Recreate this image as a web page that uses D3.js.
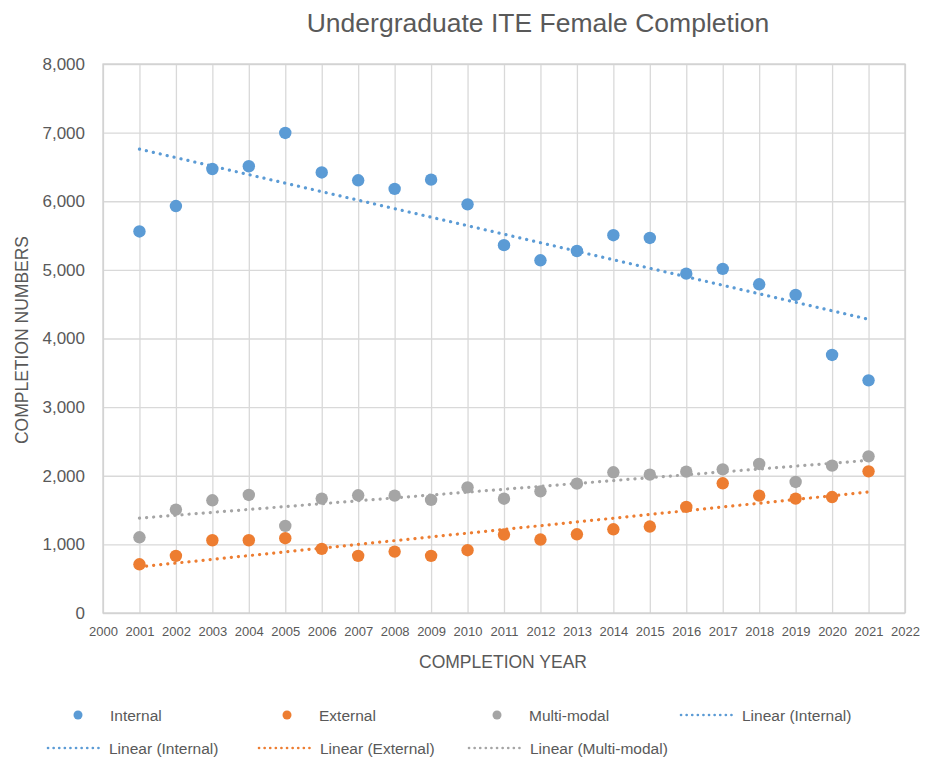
<!DOCTYPE html>
<html>
<head>
<meta charset="utf-8">
<script src="https://cdn.jsdelivr.net/npm/d3@7"></script>
<style>
  body { margin: 0; background: #fff; }
  text { font-family: "Liberation Sans", Arial, sans-serif; fill: #595959; }
</style>
</head>
<body>
<div id="chart"></div>
<script>
// data
var years = [2001, 2002, 2003, 2004, 2005, 2006, 2007, 2008, 2009, 2010, 2011,
             2012, 2013, 2014, 2015, 2016, 2017, 2018, 2019, 2020, 2021];
var internal = [5560, 5930, 6470, 6510, 6995, 6420, 6305, 6180, 6315, 5955, 5360,
                5140, 5275, 5505, 5465, 4945, 5015, 4790, 4635, 3760, 3390];
var external = [710, 833, 1060, 1060, 1090, 935, 833, 895, 833, 915, 1143,
                1070, 1147, 1220, 1260, 1546, 1890, 1710, 1667, 1690, 2064];
var multimodal = [1103, 1507, 1642, 1720, 1269, 1667, 1715, 1710, 1648, 1831, 1665,
                  1773, 1885, 2050, 2016, 2060, 2093, 2172, 1910, 2147, 2283];
var xTicks = d3.range(2000, 2023);
var yTicks = [0, 1000, 2000, 3000, 4000, 5000, 6000, 7000, 8000];

var svgWidth = 935;
var svgHeight = 760;

var margin = { top: 64, right: 30, bottom: 147, left: 103 };
var width = 905 - margin.left;
var height = 613 - margin.top;

var svg = d3.select("#chart")
    .append("svg")
    .attr("width", svgWidth)
    .attr("height", svgHeight);

var chart = svg.append("g")
    .attr("transform", `translate(${margin.left}, ${margin.top})`);

var x = d3.scaleLinear().domain([2000, 2022]).range([0, width]);
var y = d3.scaleLinear().domain([0, 8000]).range([height, 0]);

var series = [
    { name: "Internal", values: internal, color: "#5B9BD5" },
    { name: "External", values: external, color: "#ED7D31" },
    { name: "Multi-modal", values: multimodal, color: "#A5A5A5" }
];

// gridlines
chart.append("g")
    .call(d3.axisBottom(x).tickValues(xTicks).tickSize(-height).tickFormat(""))
    .attr("transform", `translate(0, ${height})`)
    .call(g => g.select(".domain").remove())
    .selectAll("line").attr("stroke", "#D9D9D9").attr("stroke-width", 1.3);

chart.append("g")
    .call(d3.axisLeft(y).tickValues(yTicks).tickSize(-width).tickFormat(""))
    .call(g => g.select(".domain").remove())
    .selectAll("line").attr("stroke", "#D9D9D9").attr("stroke-width", 1.3);

chart.append("rect")
    .attr("width", width)
    .attr("height", height)
    .attr("fill", "none")
    .attr("stroke", "#D0D0D0")
    .attr("stroke-width", 1.3);

// tick labels
var xAxis = chart.append("g")
    .attr("transform", `translate(0, ${height})`)
    .call(d3.axisBottom(x).tickValues(xTicks).tickSize(0).tickPadding(14).tickFormat(d3.format("d")));
xAxis.select(".domain").remove();
xAxis.selectAll("text").style("font-size", "13px").style("fill", "#595959");

var yAxis = chart.append("g")
    .call(d3.axisLeft(y).tickValues(yTicks).tickSize(0).tickPadding(18).tickFormat(d3.format(",")));
yAxis.select(".domain").remove();
yAxis.selectAll("text").style("font-size", "17px").style("fill", "#595959");

// linear trend lines
function fit(vals) {
    var mx = d3.mean(years), my = d3.mean(vals);
    var num = d3.sum(years, (d, i) => (d - mx) * (vals[i] - my));
    var den = d3.sum(years, d => (d - mx) * (d - mx));
    var b = num / den;
    return t => my + b * (t - mx);
}

var line = d3.line().x(d => x(d[0])).y(d => y(d[1]));

series.forEach(function (s) {
    var f = fit(s.values);
    var ends = [years[0], years[years.length - 1]];
    chart.append("path")
        .attr("d", line(ends.map(t => [t, f(t)])))
        .attr("fill", "none")
        .attr("stroke", s.color)
        .attr("stroke-width", 3.2)
        .attr("stroke-linecap", "round")
        .attr("stroke-dasharray", "0.1 7");
});

// points
series.forEach(function (s) {
    chart.selectAll(null)
        .data(s.values)
        .enter()
        .append("circle")
        .attr("cx", (d, i) => x(years[i]))
        .attr("cy", d => y(d))
        .attr("r", 6.2)
        .attr("fill", s.color);
});

// title and axis labels
svg.append("text")
    .attr("x", 538)
    .attr("y", 32)
    .attr("text-anchor", "middle")
    .style("font-size", "26.5px")
    .text("Undergraduate ITE Female Completion");

svg.append("text")
    .attr("transform", `translate(28, 340) rotate(-90)`)
    .attr("text-anchor", "middle")
    .style("font-size", "17.5px")
    .text("COMPLETION NUMBERS");

svg.append("text")
    .attr("x", 503)
    .attr("y", 668)
    .attr("text-anchor", "middle")
    .style("font-size", "17.5px")
    .text("COMPLETION YEAR");

// legend
var legendItems = [
    { label: "Internal", color: "#5B9BD5", type: "dot", x: 78, y: 715 },
    { label: "External", color: "#ED7D31", type: "dot", x: 287, y: 715 },
    { label: "Multi-modal", color: "#A5A5A5", type: "dot", x: 497, y: 715 },
    { label: "Linear (Internal)", color: "#5B9BD5", type: "line", x: 680, y: 715 },
    { label: "Linear (Internal)", color: "#5B9BD5", type: "line", x: 47, y: 748 },
    { label: "Linear (External)", color: "#ED7D31", type: "line", x: 258, y: 748 },
    { label: "Linear (Multi-modal)", color: "#A5A5A5", type: "line", x: 468, y: 748 }
];

var legend = svg.append("g");
legendItems.forEach(function (it) {
    var g = legend.append("g").attr("transform", `translate(${it.x}, ${it.y})`);
    if (it.type === "dot") {
        g.append("circle").attr("r", 4.5).attr("fill", it.color);
        g.append("text").attr("x", 32).attr("y", 5.5).style("font-size", "15.5px").text(it.label);
    } else {
        g.append("line")
            .attr("x1", 1).attr("x2", 57)
            .attr("stroke", it.color)
            .attr("stroke-width", 2.6)
            .attr("stroke-linecap", "round")
            .attr("stroke-dasharray", "0.1 5.5");
        g.append("text").attr("x", 62).attr("y", 5.5).style("font-size", "15.5px").text(it.label);
    }
});
</script>
</body>
</html>
